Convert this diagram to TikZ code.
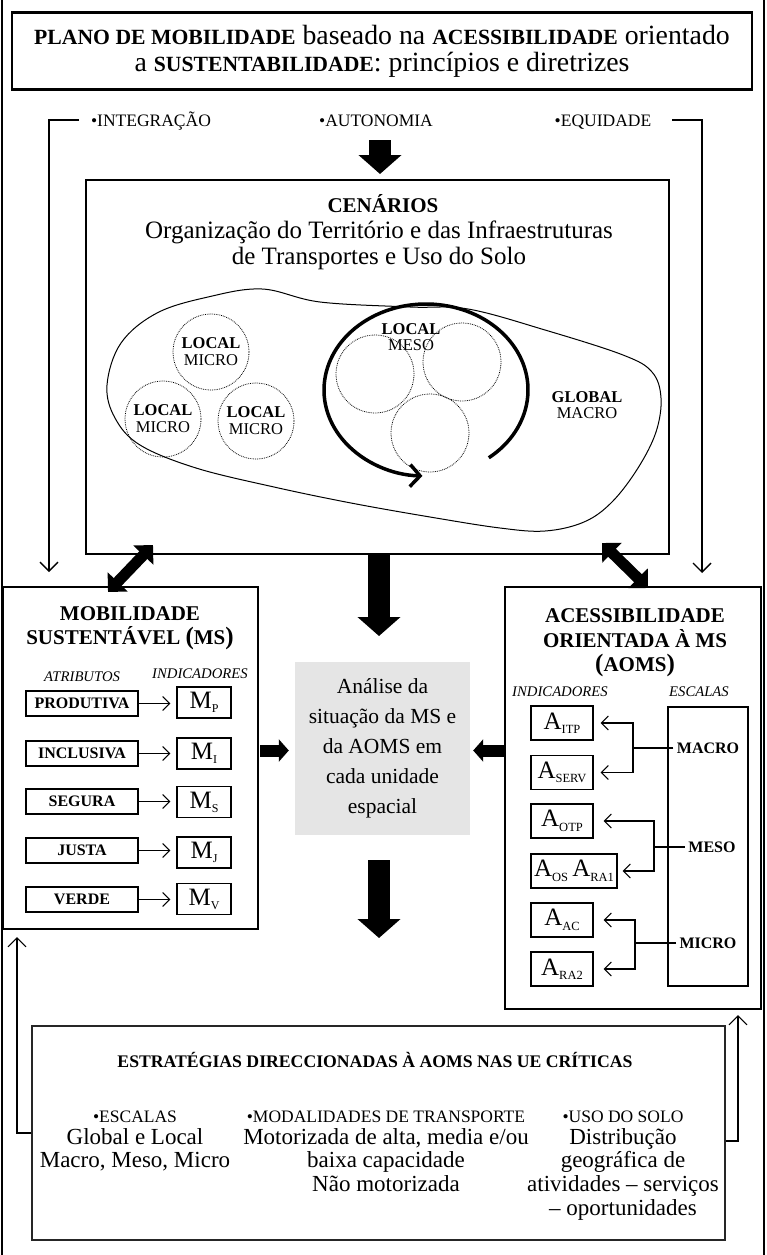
\documentclass[tikz,border=0pt]{standalone}
\usepackage{fontspec}
\setmainfont{Liberation Serif}
\usetikzlibrary{arrows.meta}
\makeatletter
\newcommand\smc[1]{{\fontsize{\dimexpr0.78\dimexpr\f@size pt\relax\relax}{\baselineskip}\selectfont#1}}
\makeatother
\newcommand\idxm[2]{#1\raisebox{-4pt}{\fontsize{12}{12}\selectfont #2}}
\newcommand\idxa[2]{#1\raisebox{-4.5pt}{\fontsize{12.5}{12}\selectfont #2}}
\tikzset{
  box/.style={draw, line width=1.1pt, inner sep=0pt},
  heavy/.style={draw, line width=2.4pt, inner sep=0pt},
  thinline/.style={line width=1.1pt},
  barb/.style={-{Straight Barb[length=7pt,width=14pt]}},
  bigbarb/.style={-{Straight Barb[length=9pt,width=18pt]}},
  fatarrow/.style={line width=22pt, -{Triangle[length=19pt,width=42pt]}},
  midarrow/.style={line width=12pt, -{Triangle[length=10pt,width=22pt]}},
  dblarrow/.style={line width=11pt, {Triangle[length=14pt,width=27pt]}-{Triangle[length=14pt,width=27pt]}},
  dotcirc/.style={draw, densely dotted, line width=0.8pt, circle, minimum size=76pt, inner sep=0pt, align=center, font=\fontsize{16.5}{17}\selectfont},
  attr/.style={box, minimum width=112pt, minimum height=25pt, font=\bfseries\fontsize{16}{16}\selectfont},
  ind/.style={box, minimum width=54pt, minimum height=31pt, font=\fontsize{25}{25}\selectfont},
  aind/.style={box, minimum width=62pt, minimum height=34pt, font=\fontsize{25}{25}\selectfont},
  princ/.style={anchor=base, font=\fontsize{17.5}{20}\selectfont},
  lab/.style={font=\itshape\fontsize{14.7}{16}\selectfont},
}
\begin{document}
\begin{tikzpicture}[x=1pt,y=-1pt]
\useasboundingbox (0,0) rectangle (766,1255);
% outer frame
\coordinate (fTL) at (2,0); \coordinate (fBL) at (2,1255);
\coordinate (fTR) at (764,0); \coordinate (fBR) at (764,1255);
\draw[line width=2pt] (fTL) -- (fBL);
\draw[line width=2pt] (fTR) -- (fBR);

% title
\node[heavy, minimum width=740pt, minimum height=77pt, align=center, font=\fontsize{27.8}{27}\selectfont] (title) at (382,51)
 {\smc{\bfseries PLANO DE MOBILIDADE} baseado na \smc{\bfseries ACESSIBILIDADE} orientado\\
  a \smc{\bfseries SUSTENTABILIDADE}: princípios e diretrizes};

% principles
\node[princ] (integ) at (151,126) {•INTEGRAÇÃO};
\node[princ] (auto) at (376,126) {•AUTONOMIA};
\node[princ] (equi) at (603,126) {•EQUIDADE};
\coordinate (lA) at (79,120); \coordinate (lB) at (49,572);
\coordinate (rA) at (672,120); \coordinate (rB) at (702,573);
\draw[line width=1.4pt, bigbarb] (lA) -| (lB);
\draw[line width=1.4pt, bigbarb] (rA) -| (rB);
\coordinate (autoS) at (380,140); \coordinate (autoE) at (380,174);
\draw[fatarrow] (autoS) -- (autoE);

% scenarios box
\node[heavy, minimum width=583pt, minimum height=374pt] (cen) at (377.5,367) {};
\node[font=\bfseries\fontsize{21}{22}\selectfont] (cenT) at (383,204) {CENÁRIOS};
\node[align=center, font=\fontsize{25}{26}\selectfont] (cenS) at (379,245)
 {Organização do Território e das Infraestruturas\\de Transportes e Uso do Solo};

% blob
\draw[line width=1pt] plot[smooth cycle, tension=0.6] coordinates {
 (107,385) (121,343) (157,313) (208,297) (262,289) (320,302) (410,307)
 (468,309) (545,330) (623,355) (652,372) (661,398) (656,432) (638,468)
 (612,502) (584,522) (545,531) (500,528) (430,517) (351,503) (274,487)
 (196,468) (140,445) (115,418)};

% circles
\node[dotcirc] (c1) at (211,352) {\textbf{LOCAL}\\MICRO};
\node[dotcirc] (c2) at (163,419) {\textbf{LOCAL}\\MICRO};
\node[dotcirc] (c3) at (256,421) {\textbf{LOCAL}\\MICRO};
\node[dotcirc, minimum size=78pt] (m1) at (375,374) {};
\node[dotcirc, minimum size=78pt] (m2) at (462,362) {};
\node[dotcirc, minimum size=78pt] (m3) at (430,433) {};
\node[align=center, font=\fontsize{16.5}{16}\selectfont] (lmeso) at (411,337) {\textbf{LOCAL}\\MESO};
\node[align=center, font=\fontsize{16.5}{16}\selectfont] (glob) at (587,405) {\textbf{GLOBAL}\\MACRO};
\coordinate (mc) at (426,390);
\draw[line width=3.5pt, -{Straight Barb[length=10pt,width=22pt]}] (mc) ++(52:102 and 86)
  arc[start angle=52, end angle=-268, x radius=102, y radius=86];

% double arrows
\coordinate (dl1) at (108,592); \coordinate (dl2) at (153,545);
\coordinate (dr1) at (602,543); \coordinate (dr2) at (648,588);
\draw[dblarrow] (dl1) -- (dl2);
\draw[dblarrow] (dr1) -- (dr2);

% MS box
\node[heavy, minimum width=255pt, minimum height=342pt] (ms) at (130.5,758) {};
\node[align=center, font=\bfseries\fontsize{21}{24}\selectfont] (mst) at (130,628)
 {MOBILIDADE\\SUSTENTÁVEL {\fontsize{25}{24}\selectfont(}MS{\fontsize{25}{24}\selectfont)}};
\node[lab] (atr) at (82,677) {ATRIBUTOS};
\node[lab] (indl) at (200,674) {INDICADORES};
\node[attr] (a1) at (82,703.5) {PRODUTIVA};
\node[attr] (a2) at (82,753.5) {INCLUSIVA};
\node[attr] (a3) at (82,801.5) {SEGURA};
\node[attr] (a4) at (82,850.5) {JUSTA};
\node[attr] (a5) at (82,899.5) {VERDE};
\node[ind] (i1) at (204,702.5) {\idxm{M}{P}};
\node[ind] (i2) at (204,753.5) {\idxm{M}{I}};
\node[ind] (i3) at (204,802) {\idxm{M}{S}};
\node[ind] (i4) at (204,852.5) {\idxm{M}{J}};
\node[ind] (i5) at (204,899) {\idxm{M}{V}};
\foreach \k in {1,...,5}{
  \draw[thinline, barb, shorten >=6pt] (a\k.east) -- (a\k.east -| i\k.west);
}

% analysis box
\node[fill=gray!20, minimum width=175pt, minimum height=173pt, align=center, font=\fontsize{21.5}{30}\selectfont] (an) at (382.5,748.5)
 {Análise da\\situação da MS e\\da AOMS em\\cada unidade\\espacial};
\coordinate (cd1) at (379,555); \coordinate (cd2) at (379,636);
\draw[fatarrow] (cd1) -- (cd2);
\coordinate (bd1) at (379,860); \coordinate (bd2) at (379,938);
\draw[fatarrow] (bd1) -- (bd2);
\draw[midarrow] (ms.east |- an.west) ++(1,2) coordinate (gl1) -- ([xshift=-6pt,yshift=-2pt]an.west);
\draw[midarrow] (ms.east |- an.west) ++(246,2) coordinate (gr1) -- ([xshift=3pt,yshift=-2pt]an.east);

% AOMS box
\node[heavy, minimum width=256pt, minimum height=422pt] (ao) at (633,798) {};
\node[align=center, font=\bfseries\fontsize{21}{24.5}\selectfont] (aot) at (635,643)
 {ACESSIBILIDADE\\ORIENTADA À MS\\{\fontsize{25}{24}\selectfont(}AOMS{\fontsize{25}{24}\selectfont)}};
\node[lab] (aind) at (560,692) {INDICADORES};
\node[lab] (aesc) at (699,692) {ESCALAS};
\node[aind] (ai1) at (562,723) {\idxa{A}{ITP}};
\node[aind] (ai2) at (562,772.5) {\idxa{A}{SERV}};
\node[aind] (ai3) at (562,821) {\idxa{A}{OTP}};
\node[aind, minimum width=86pt] (ai4) at (574,871) {\idxa{A}{OS}\,\idxa{A}{RA1}};
\node[aind] (ai5) at (562,920) {\idxa{A}{AC}};
\node[aind] (ai6) at (562,969) {\idxa{A}{RA2}};
\node[box, minimum width=80pt, minimum height=279pt] (esc) at (708,846.5) {};
\node[font=\bfseries\fontsize{16}{16}\selectfont] (mac) at (708,748) {MACRO};
\node[font=\bfseries\fontsize{16}{16}\selectfont] (mes) at (712,847) {MESO};
\node[font=\bfseries\fontsize{16}{16}\selectfont] (mic) at (708,943) {MICRO};
\coordinate (jM) at (633,748); \coordinate (jS) at (654,847); \coordinate (jI) at (635,943);
\draw[thinline] (mac.west) -- (jM);
\draw[thinline] (mes.west) -- (jS);
\draw[thinline] (mic.west) -- (jI);
\draw[thinline, barb] (jM) |- ([xshift=7pt]ai1.east);
\draw[thinline, barb] (jM) |- ([xshift=7pt]ai2.east);
\draw[thinline, barb] (jS) |- ([xshift=10pt]ai3.east);
\draw[thinline, barb] (jS) |- ([xshift=5pt]ai4.east);
\draw[thinline, barb] (jI) |- ([xshift=10pt]ai5.east);
\draw[thinline, barb] (jI) |- ([xshift=10pt]ai6.east);

% strategy box
\node[box, draw=black!85, line width=1.3pt, minimum width=693pt, minimum height=214pt] (st) at (378.5,1133) {};
\node[font=\bfseries\fontsize{17.7}{18}\selectfont] (sth) at (375,1060) {ESTRATÉGIAS DIRECCIONADAS À AOMS NAS UE CRÍTICAS};
\node[princ] (h1) at (135,1122) {•ESCALAS};
\node[princ] (h2) at (386,1122) {•MODALIDADES DE TRANSPORTE};
\node[princ] (h3) at (623,1122) {•USO DO SOLO};
\node[anchor=north, inner sep=0pt, align=center, font=\fontsize{23}{23.7}\selectfont] (b1) at (135,1128)
 {Global e Local\\Macro, Meso, Micro};
\node[anchor=north, inner sep=0pt, align=center, font=\fontsize{23}{23.7}\selectfont] (b2) at (386,1128)
 {Motorizada de alta, media e/ou\\baixa capacidade\\Não motorizada};
\node[anchor=north, inner sep=0pt, align=center, font=\fontsize{23}{23.7}\selectfont] (b3) at (623,1128)
 {Distribução\\geográfica de\\atividades – serviços\\– oportunidades};
\coordinate (lp1) at (17,1133); \coordinate (lp2) at (17,937);
\draw[thinline, bigbarb] (st.west) -- (lp1) -- (lp2);
\coordinate (rp1) at (738,1141); \coordinate (rp2) at (738,1015);
\draw[thinline, bigbarb] ([yshift=-8pt]st.east) -- (rp1) -- (rp2);
\end{tikzpicture}
\end{document}
